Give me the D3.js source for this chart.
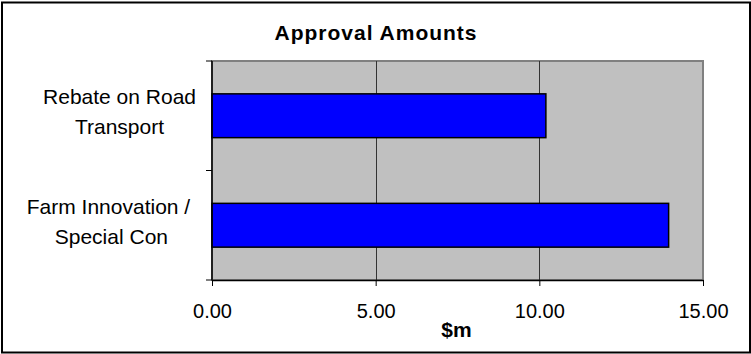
<!DOCTYPE html>
<html>
<head>
<meta charset="utf-8">
<script src="https://cdn.jsdelivr.net/npm/d3@7"></script>
<style>
  html, body { margin: 0; padding: 0; background: #fff; }
  svg { display: block; }
  text { font-family: "Liberation Sans", Arial, sans-serif; fill: #000; }
</style>
</head>
<body>
<svg id="chart" width="751" height="354"></svg>
<script>
// Data
const categories = ["Rebate on Road Transport", "Farm Innovation / Special Con"];
const categoryLines = [["Rebate on Road", "Transport"], ["Farm Innovation / ", "Special Con"]];
const amounts = [10.2, 13.95];
const xTicks = [0, 5, 10, 15];
const chartTitle = "Approval Amounts";
const xTitle = "$m";

const W = 751, H = 354;
const plot = { left: 212, right: 703, top: 61, bottom: 280 };

const svg = d3.select("#chart");

// Outer chart frame
svg.append("rect")
  .attr("x", 2).attr("y", 2.5)
  .attr("width", W - 3).attr("height", H - 4)
  .attr("fill", "#fff").attr("stroke", "#000").attr("stroke-width", 2);

const x = d3.scaleLinear().domain([0, 15]).range([plot.left, plot.right]);
const y = d3.scaleBand().domain(categories).range([plot.top, plot.bottom]).padding(0);

// Plot area
svg.append("rect")
  .attr("x", plot.left).attr("y", plot.top)
  .attr("width", plot.right - plot.left).attr("height", plot.bottom - plot.top)
  .attr("fill", "#c0c0c0").attr("stroke", "#808080").attr("stroke-width", 2);

// Vertical gridlines
svg.append("g").selectAll("line")
  .data(xTicks.filter(v => v > 0 && v < 15))
  .join("line")
  .attr("x1", d => Math.round(x(d)) + 0.5).attr("x2", d => Math.round(x(d)) + 0.5)
  .attr("y1", plot.top).attr("y2", plot.bottom)
  .attr("stroke", "#333").attr("stroke-width", 1);

// Bars
const bw = y.bandwidth();
svg.append("g").selectAll("rect")
  .data(categories)
  .join("rect")
  .attr("x", x(0))
  .attr("y", d => y(d) + bw * 0.3)
  .attr("width", (d, i) => x(amounts[i]) - x(0))
  .attr("height", bw * 0.4)
  .attr("fill", "#0000ff")
  .attr("stroke", "#000").attr("stroke-width", 1.5);

// X axis
const xAxis = svg.append("g")
  .attr("transform", `translate(0,${plot.bottom})`)
  .call(d3.axisBottom(x).tickValues(xTicks).tickFormat(d3.format(".2f")).tickSize(6).tickSizeOuter(0));
xAxis.select(".domain").attr("stroke", "#000").attr("stroke-width", 1.5);
xAxis.selectAll(".tick line").attr("stroke", "#000");
xAxis.selectAll(".tick text")
  .attr("y", 24).attr("dy", "0.71em")
  .style("font-size", "20px").style("font-family", "'Liberation Sans', Arial, sans-serif");

// Y axis line and ticks at category boundaries
svg.append("line")
  .attr("x1", plot.left).attr("x2", plot.left)
  .attr("y1", plot.top).attr("y2", plot.bottom)
  .attr("stroke", "#000").attr("stroke-width", 1.5);
const bounds = categories.map(c => y(c)).concat([plot.bottom]);
svg.append("g").selectAll("line")
  .data(bounds)
  .join("line")
  .attr("x1", plot.left - 6).attr("x2", plot.left)
  .attr("y1", d => d).attr("y2", d => d)
  .attr("stroke", "#000").attr("stroke-width", 1);

// Category labels: each block right-aligned beside the axis, lines centred in it
const labelRight = 196;
categories.forEach((c, i) => {
  const cy = y(c) + bw / 2;
  const g = svg.append("g");
  const texts = g.selectAll("text")
    .data(categoryLines[i])
    .join("text")
    .attr("xml:space", "preserve")
    .attr("text-anchor", "middle")
    .attr("y", (d, j) => cy - 11.5 + j * 30)
    .style("font-size", "21px")
    .text(d => d);
  const blockW = d3.max(texts.nodes(), n => n.getComputedTextLength());
  texts.attr("x", labelRight - blockW / 2);
});

// Titles
svg.append("text")
  .attr("x", 376).attr("y", 40)
  .attr("text-anchor", "middle")
  .style("font-size", "21px").style("font-weight", "bold").style("letter-spacing", "1px")
  .text(chartTitle);

svg.append("text")
  .attr("x", (plot.left + plot.right) / 2 - 1).attr("y", 336.5)
  .attr("text-anchor", "middle")
  .style("font-size", "21px").style("font-weight", "bold")
  .text(xTitle);
</script>
</body>
</html>
